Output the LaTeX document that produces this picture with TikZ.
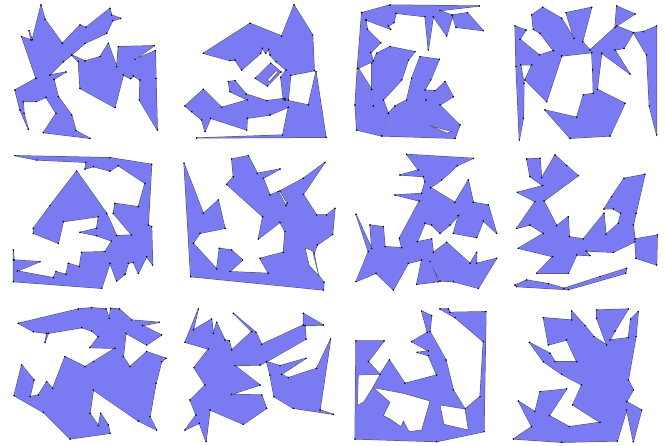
\documentclass[tikz,border=0pt]{standalone}
\definecolor{pc}{RGB}{122,122,242}
\definecolor{ec}{RGB}{80,80,100}
\tikzset{
  pstroke/.style={draw=ec, line width=1.0pt, line join=round},
  pfill/.style={fill=pc},
  pmark/.style={mark=*, mark size=0.55pt, mark options={draw=none, fill=black!70}},
  holeshape/.style={draw=ec, line width=0.5pt, line join=round, fill=white},
}
\newcommand\panel[3]{\begin{scope}[shift={(#1,#2)},x=0.3333pt,y=-0.3333pt]#3{pstroke}#3{pfill}#3{pmark}\end{scope}}

\newcommand\PanelA[1]{%
\path[#1] plot coordinates {(123,15) (135,58) (187,130) (215,165) (190,185) (150,225) (198,216) (162,238) (175,290) (215,345) (228,392) (270,415) (130,398) (168,340) (138,292) (108,305) (70,305) (72,340) (85,388) (60,330) (45,270) (108,235) (65,110) (93,120) (87,92) (97,119)} -- cycle;
\path[#1] plot coordinates {(187,130) (240,75) (258,82) (330,25) (335,45) (362,55) (338,62) (320,100) (255,130) (215,165)} -- cycle;
\path[#1] plot coordinates {(215,165) (255,183) (300,170) (325,130) (350,200) (355,140) (463,137) (405,178) (466,152) (468,235) (472,390) (418,300) (420,240) (400,228) (392,236) (370,225) (345,323) (240,265) (235,185)} -- cycle;}

\newcommand\PanelB[1]{%
\path[#1] plot coordinates {(100,160) (240,70) (335,108) (372,15) (428,105) (433,212) (362,226) (355,300) (340,297) (332,232) (348,210) (318,185) (300,165) (296,148) (287,160) (277,145) (272,160) (215,210) (195,180) (180,182)} -- cycle;
\path[#1] plot coordinates {(256,235) (302,190) (333,216) (292,258)} -- cycle;
\path[#1] plot coordinates {(45,318) (100,268) (155,322) (232,300) (180,275) (175,245) (195,242) (228,282) (290,302) (345,295) (355,322) (300,345) (232,355) (230,390) (122,355) (105,395) (95,360) (65,335)} -- cycle;
\path[#1] plot coordinates {(345,300) (415,315) (438,215) (468,412) (80,414) (338,405) (355,322)} -- cycle;}

\newcommand\PanelC[1]{%
\path[#1] plot coordinates {(65,38) (150,15) (418,18) (300,32) (335,45) (382,38) (430,92) (348,82) (338,48) (320,108) (280,50) (265,150) (255,50) (168,40) (162,68) (145,78) (152,88) (78,60)} -- cycle;
\path[#1] plot coordinates {(65,38) (78,60) (82,88) (122,128) (92,158) (100,183) (55,205) (95,268) (100,318) (145,340) (125,408) (50,390) (45,315) (52,205)} -- cycle;
\path[#1] plot coordinates {(100,183) (110,160) (150,140) (225,155) (205,180) (185,240) (130,300) (145,340) (100,318) (95,268) (95,190)} -- cycle;
\path[#1] plot coordinates {(240,170) (298,178) (272,240) (255,270) (285,272) (258,300) (315,245) (340,290) (300,315) (360,375) (345,415) (125,408) (145,340) (165,318) (200,300) (215,235)} -- cycle;}

\newcommand\PanelD[1]{%
\path[#1] plot coordinates {(45,78) (78,90) (60,118) (118,165) (160,152) (185,168) (140,305) (75,240) (95,195) (62,195) (72,250) (70,355) (58,420) (48,200)} -- cycle;
\path[#1] plot coordinates {(95,45) (128,22) (185,55) (222,115) (198,38) (275,22) (248,125) (270,150) (345,82) (350,18) (405,42) (350,78) (400,98) (372,145) (345,150) (390,222) (305,160) (275,158) (185,168) (160,152) (120,100) (100,88)} -- cycle;
\path[#1] plot coordinates {(135,330) (230,352) (250,285) (280,280) (278,210) (275,158) (305,160) (292,268) (375,310) (330,408) (210,415)} -- cycle;
\path[#1] plot coordinates {(400,98) (430,95) (470,78) (470,405) (448,318) (440,165)} -- cycle;}

\newcommand\PanelE[1]{%
\path[#1] plot coordinates {(45,32) (330,38) (455,58) (445,240) (455,245) (458,360) (440,335) (415,385) (400,352) (385,355) (375,388) (350,408) (330,355) (305,430) (40,410) (40,345) (40,315) (42,345) (120,350) (52,378) (160,398) (168,380) (198,388) (205,355) (238,365) (245,322) (315,320) (335,288) (290,272) (240,262) (290,250) (295,215) (190,230) (175,295) (100,265) (100,250) (150,182) (230,78) (320,205) (350,272) (395,270) (340,205) (345,175) (415,185) (435,115) (355,62) (330,78) (280,65) (255,72) (258,52) (110,45)} -- cycle;}

\newcommand\PanelF[1]{%
\path[#1] plot coordinates {(42,55) (100,205) (145,165) (165,250) (90,265) (70,295) (140,372) (148,310) (185,315) (218,345) (180,380) (295,385) (270,340) (340,322) (345,260) (330,232) (265,282) (278,215) (170,118) (190,95) (185,42) (235,32) (262,85) (330,72) (280,100) (300,150) (325,140) (348,182) (352,175) (330,138) (400,100) (465,52) (400,148) (440,210) (470,210) (495,190) (488,268) (442,300) (432,325) (445,390) (462,412) (460,435) (62,395)} -- cycle;}

\newcommand\PanelG[1]{%
\path[#1] plot coordinates {(200,28) (400,40) (352,62) (305,105) (272,128) (345,172) (385,105) (400,172) (355,212) (330,240) (300,265) (275,240) (255,235) (232,290) (275,282) (280,322) (320,292) (390,355) (410,322) (410,355) (470,340) (415,430) (340,410) (300,408) (270,350) (295,410) (230,418) (245,345) (205,355) (160,435) (108,385) (48,410) (85,320) (48,208) (95,310) (90,240) (130,245) (135,305) (185,308) (178,280) (238,168) (165,150) (245,145) (255,110) (250,95) (180,90) (235,75)} -- cycle;
\path[#1] plot coordinates {(355,212) (400,172) (445,180) (470,265) (430,228) (410,278) (340,265)} -- cycle;}

\newcommand\PanelH[1]{%
\path[#1] plot coordinates {(80,42) (120,40) (125,98) (165,30) (200,62) (235,92) (132,168) (170,242) (205,215) (208,275) (250,282) (312,205) (318,268) (355,235) (362,205) (340,192) (312,192) (335,155) (372,100) (435,88) (408,205) (400,240) (405,282) (472,270) (470,360) (408,340) (405,290) (340,322) (258,318) (270,332) (230,330) (205,385) (110,385) (158,335) (55,310) (130,265) (90,240) (50,250) (105,170) (52,142) (128,122) (90,95)} -- cycle;
\path[#1] plot coordinates {(45,420) (80,405) (145,416) (192,430) (300,395) (380,370) (377,385) (205,434) (50,425)} -- cycle;}

\newcommand\PanelI[1]{%
\path[#1] plot coordinates {(55,85) (235,42) (275,38) (318,42) (328,70) (332,40) (358,42) (395,75) (478,82) (428,92) (485,120) (440,150) (378,115) (370,185) (390,215) (440,170) (498,190) (485,200) (468,265) (450,365) (470,405) (415,378) (280,285) (270,355) (295,392) (302,355) (325,390) (330,415) (210,432) (130,352) (42,302) (65,210) (102,255) (90,305) (115,300) (140,260) (158,280) (195,185) (255,215) (280,200) (345,160) (270,158) (295,125) (275,108) (245,98) (145,115) (135,142) (140,115) (100,110)} -- cycle;}

\newcommand\PanelJ[1]{%
\path[#1] plot coordinates {(85,42) (70,105) (125,72) (130,115) (140,82) (165,135) (178,138) (185,165) (245,110) (190,55) (258,112) (275,148) (400,90) (400,55) (460,90) (405,92) (408,132) (290,200) (270,210) (195,212) (270,270) (185,298) (275,300) (290,340) (220,388) (120,345) (108,440) (88,385) (45,405) (78,360) (60,315) (105,270) (72,218) (115,162) (45,142)} -- cycle;
\path[#1] plot coordinates {(290,200) (330,212) (408,190) (335,238) (355,248) (440,220) (482,132) (450,345) (490,358) (370,340) (312,305) (300,240)} -- cycle;}

\newcommand\PanelK[1]{%
\path[#1] plot coordinates {(48,138) (132,138) (85,200) (120,238) (148,195) (195,265) (290,240) (265,182) (232,172) (265,168) (215,140) (262,112) (245,48) (275,62) (270,110) (318,195) (340,285) (375,342) (420,305) (430,140) (345,68) (300,42) (325,42) (330,52) (438,50) (432,410) (290,440) (45,432)} -- cycle;}

\newcommand\PanelL[1]{%
\path[#1] plot coordinates {(130,68) (215,75) (215,48) (255,92) (282,125) (320,150) (290,70) (290,45) (385,42) (345,108) (330,135) (385,128) (392,72) (415,50) (408,125) (385,255) (400,285) (380,320) (425,345) (400,440) (380,345) (352,438) (185,442) (40,432) (95,395) (55,318) (105,350) (120,290) (200,282) (148,362) (208,395) (300,382) (218,330) (245,270) (185,238) (130,200) (88,142) (150,175) (165,200) (230,200) (200,135) (145,150)} -- cycle;}

\begin{document}
\begin{tikzpicture}[x=1pt,y=-1pt]
\fill[white] (0,0) rectangle (666,446);
\useasboundingbox (0,0) rectangle (666,446);
\panel{0}{0}{\PanelA}
\panel{170}{0}{\PanelB}
\panel{340}{0}{\PanelC}
\panel{500}{0}{\PanelD}
\panel{0}{145}{\PanelE}
\panel{170}{145}{\PanelF}
\panel{340}{145}{\PanelG}
\panel{500}{145}{\PanelH}
\panel{0}{295}{\PanelI}
\panel{170}{295}{\PanelJ}
\panel{340}{295}{\PanelK}
\panel{500}{295}{\PanelL}
% white holes and slits
\begin{scope}[shift={(170,0)},x=0.3333pt,y=-0.3333pt]
\path[holeshape] (292,240) -- (318,212) -- (325,215) -- (298,245) -- cycle;
\end{scope}
\begin{scope}[shift={(340,0)},x=0.3333pt,y=-0.3333pt]
\path[holeshape] (266,376) -- (335,395) -- (322,399) -- cycle;
\end{scope}
\begin{scope}[shift={(170,145)},x=0.3333pt,y=-0.3333pt]
\path[holeshape] (405,308) -- (428,318) -- (446,392) -- (418,362) -- cycle;
\end{scope}
\begin{scope}[shift={(340,295)},x=0.3333pt,y=-0.3333pt]
\path[holeshape] (55,240) -- (120,238) -- (100,275) -- (72,320) -- (52,332) -- cycle;
\path[holeshape] (100,278) -- (190,295) -- (270,318) -- (245,405) -- (207,410) -- (190,378) -- (183,395) -- (150,372) -- (130,362) -- (150,322) -- cycle;
\path[holeshape] (300,330) -- (375,342) -- (385,405) -- (312,388) -- cycle;
\end{scope}
\end{tikzpicture}
\end{document}
